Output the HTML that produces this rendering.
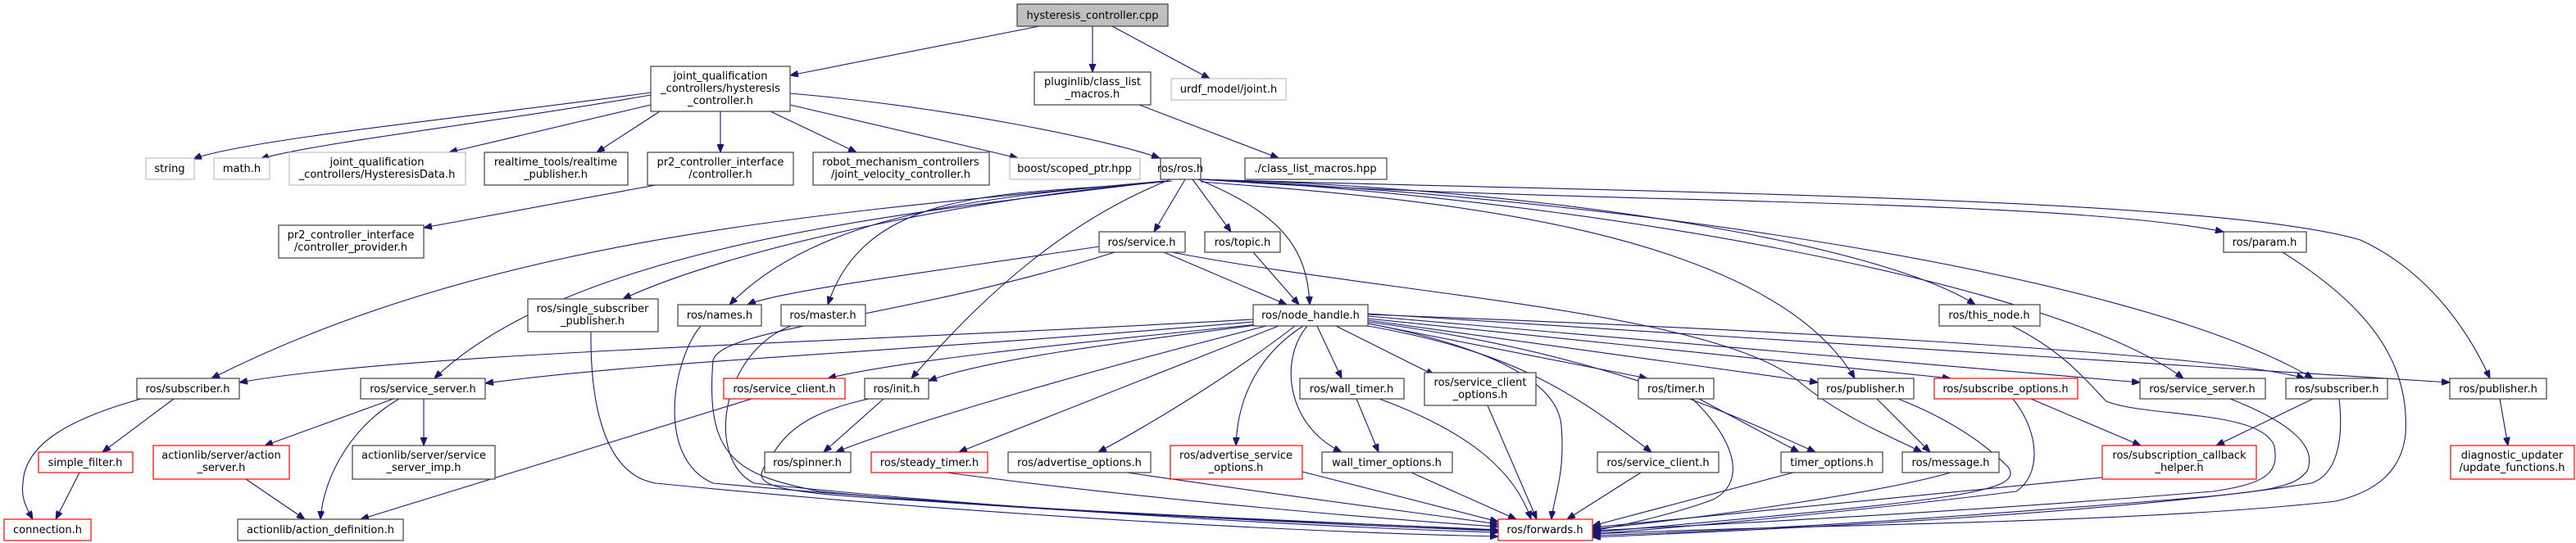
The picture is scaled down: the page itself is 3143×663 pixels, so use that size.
<!DOCTYPE html>
<html><head><meta charset="utf-8"><style>
html,body{margin:0;padding:0;background:#fff;}
svg{display:block;}
text{font-family:"DejaVu Sans","Liberation Sans",sans-serif;font-size:13px;fill:#000;text-anchor:middle;}
.n{fill:#fff;stroke:#404040;stroke-width:1.2;}
.r{fill:#fff;stroke:#ff0000;stroke-width:1.2;}
.g{fill:#fff;stroke:#bfbfbf;stroke-width:1.2;}
path.e{fill:none;stroke:#191970;stroke-width:1.1;marker-end:url(#a);}
</style></head><body>
<svg width="3143" height="663" viewBox="0 0 3143 663" xmlns="http://www.w3.org/2000/svg">
<defs><marker id="a" markerWidth="11" markerHeight="8" refX="10" refY="4" orient="auto" markerUnits="userSpaceOnUse"><path d="M0,0 L10,4 L0,8 z" fill="#191970" stroke="#191970"/></marker></defs>
<g>
<path class="e" d="M1268,32 L964,92"/>
<path class="e" d="M1333,32 L1333,88"/>
<path class="e" d="M1357,32 L1476,96"/>
<path class="e" d="M794,113 C600,140 300,170 236,194"/>
<path class="e" d="M794,116 C600,150 380,175 318,194"/>
<path class="e" d="M794,128 L548,186"/>
<path class="e" d="M805,136 L728,186"/>
<path class="e" d="M879,136 L879,186"/>
<path class="e" d="M940,136 L1045,186"/>
<path class="e" d="M964,128 L1242,193"/>
<path class="e" d="M964,114 C1150,130 1350,170 1415,193"/>
<path class="e" d="M1390,128 L1560,193"/>
<path class="e" d="M800,226 L517,278"/>
<path class="e" d="M1420,221 C1000,260 600,290 258,462"/>
<path class="e" d="M1422,221 C1100,260 700,300 530,462"/>
<path class="e" d="M1420,222 C1200,240 900,300 760,365"/>
<path class="e" d="M1425,221 C1200,240 1000,260 890,372"/>
<path class="e" d="M1430,221 C1250,240 1060,220 1010,372"/>
<path class="e" d="M1428,219 C1300,270 1200,360 1112,462"/>
<path class="e" d="M1446,219 L1408,283"/>
<path class="e" d="M1455,219 L1502,283"/>
<path class="e" d="M1462,219 C1560,260 1595,300 1598,372"/>
<path class="e" d="M1465,219 C1900,230 2300,300 2410,372"/>
<path class="e" d="M1465,222 C1700,240 2150,270 2263,462"/>
<path class="e" d="M1465,219 C1900,240 2500,340 2664,462"/>
<path class="e" d="M1465,219 C1950,240 2600,330 2822,462"/>
<path class="e" d="M1465,219 C1900,250 2500,240 2713,283"/>
<path class="e" d="M1465,219 C2000,235 2700,240 2880,293 C2960,330 3010,400 3038,462"/>
<path class="e" d="M1341,301 C1150,330 950,355 912,372"/>
<path class="e" d="M1420,308 L1570,372"/>
<path class="e" d="M1360,308 C1100,390 880,400 870,440 C860,560 900,580 1000,600 C1300,630 1700,640 1828,647"/>
<path class="e" d="M1430,308 C1700,360 2100,380 2200,470 C2250,510 2300,530 2345,552"/>
<path class="e" d="M1529,308 L1585,372"/>
<path class="e" d="M1529,390 C1000,420 500,430 292,467"/>
<path class="e" d="M1529,393 C1100,430 800,440 592,468"/>
<path class="e" d="M1535,396 C1300,420 1100,440 1010,462"/>
<path class="e" d="M1540,396 C1350,420 1200,440 1133,465"/>
<path class="e" d="M1545,398 C1300,460 1100,520 1020,552"/>
<path class="e" d="M1560,398 C1400,460 1250,520 1170,552"/>
<path class="e" d="M1580,398 C1500,460 1400,520 1340,552"/>
<path class="e" d="M1590,398 C1540,430 1510,480 1508,544"/>
<path class="e" d="M1607,398 L1637,462"/>
<path class="e" d="M1595,398 C1560,440 1570,520 1637,552"/>
<path class="e" d="M1630,398 L1750,458"/>
<path class="e" d="M1669,395 C1800,420 1900,460 1905,520 C1910,580 1895,610 1893,634"/>
<path class="e" d="M1669,398 C1850,430 1920,480 2015,552"/>
<path class="e" d="M1669,395 L2010,462"/>
<path class="e" d="M1669,393 C1950,430 2100,500 2215,552"/>
<path class="e" d="M1669,391 L2218,467"/>
<path class="e" d="M1669,389 L2380,462"/>
<path class="e" d="M1669,386 L2611,467"/>
<path class="e" d="M1669,384 C2100,400 2700,430 2812,462"/>
<path class="e" d="M1669,383 L2989,467"/>
<path class="e" d="M855,398 C820,440 800,560 870,590 C1200,620 1600,640 1828,648"/>
<path class="e" d="M965,398 C880,430 860,560 920,590 C1250,625 1650,645 1828,650"/>
<path class="e" d="M721,405 C720,500 740,580 800,590 C1200,630 1600,650 1828,655"/>
<path class="e" d="M2455,398 C2520,430 2550,470 2570,490 C2620,510 2760,500 2775,545 C2780,575 2770,590 2700,600 C2400,625 2100,640 1943,648"/>
<path class="e" d="M2785,308 C2900,380 2940,450 2935,530 C2930,575 2900,600 2850,612 C2600,640 2200,640 1943,652"/>
<path class="e" d="M172,487 C90,510 30,540 28,590 C25,610 35,625 40,634"/>
<path class="e" d="M212,487 L125,552"/>
<path class="e" d="M97,577 L68,634"/>
<path class="e" d="M480,487 L323,544"/>
<path class="e" d="M487,487 C430,520 395,580 391,634"/>
<path class="e" d="M517,487 L517,544"/>
<path class="e" d="M300,585 L372,634"/>
<path class="e" d="M917,487 L440,634"/>
<path class="e" d="M1078,487 L1005,552"/>
<path class="e" d="M1060,487 C1000,500 960,520 940,560 C915,590 920,600 1100,610 C1400,630 1700,640 1828,648"/>
<path class="e" d="M1655,487 L1682,552"/>
<path class="e" d="M1683,487 C1800,530 1850,580 1868,634"/>
<path class="e" d="M1815,495 L1875,634"/>
<path class="e" d="M2073,487 L2195,552"/>
<path class="e" d="M2065,487 C2120,540 2130,590 2090,610 C2050,625 1990,640 1943,648"/>
<path class="e" d="M2002,577 L1912,634"/>
<path class="e" d="M2188,577 L1943,642"/>
<path class="e" d="M2290,487 L2355,552"/>
<path class="e" d="M2316,487 C2400,520 2440,560 2450,570 C2470,600 2400,610 1943,650"/>
<path class="e" d="M2478,487 L2612,544"/>
<path class="e" d="M2456,487 C2490,530 2490,580 2460,600 C2300,620 2100,640 1943,652"/>
<path class="e" d="M2721,487 C2780,510 2830,540 2815,575 C2800,595 2770,600 2650,610 C2400,630 2200,645 1943,654"/>
<path class="e" d="M2822,487 L2704,544"/>
<path class="e" d="M2854,487 C2860,540 2850,580 2820,590 C2600,625 2200,645 1943,656"/>
<path class="e" d="M3050,487 L3060,544"/>
<path class="e" d="M2565,583 L1943,644"/>
<path class="e" d="M1155,577 C1400,610 1700,635 1828,643"/>
<path class="e" d="M1375,577 C1600,610 1760,630 1828,640"/>
<path class="e" d="M1589,576 C1700,605 1780,625 1828,637"/>
<path class="e" d="M1722,577 L1850,634"/>
<path class="e" d="M2380,577 C2300,600 2100,630 1943,646"/>
</g>
<g>
<rect x="1241" y="5" width="184" height="27" fill="#bfbfbf" stroke="#404040" stroke-width="1.2"/><text x="1333" y="23">hysteresis_controller.cpp</text>
<rect class="n" x="794" y="81" width="170" height="55"/><text x="879" y="97">joint_qualification</text><text x="879" y="112">_controllers/hysteresis</text><text x="879" y="127">_controller.h</text>
<rect class="n" x="1262" y="88" width="142" height="40"/><text x="1333" y="104">pluginlib/class_list</text><text x="1333" y="119">_macros.h</text>
<rect class="g" x="1429" y="96" width="140" height="26"/><text x="1499" y="113">urdf_model/joint.h</text>
<rect class="g" x="178" y="193" width="59" height="26"/><text x="207" y="210">string</text>
<rect class="g" x="261" y="193" width="68" height="26"/><text x="295" y="210">math.h</text>
<rect class="g" x="353" y="186" width="215" height="40"/><text x="460" y="202">joint_qualification</text><text x="460" y="217">_controllers/HysteresisData.h</text>
<rect class="n" x="591" y="186" width="175" height="40"/><text x="678" y="202">realtime_tools/realtime</text><text x="678" y="217">_publisher.h</text>
<rect class="n" x="790" y="186" width="178" height="40"/><text x="879" y="202">pr2_controller_interface</text><text x="879" y="217">/controller.h</text>
<rect class="n" x="992" y="186" width="215" height="40"/><text x="1099" y="202">robot_mechanism_controllers</text><text x="1099" y="217">/joint_velocity_controller.h</text>
<rect class="g" x="1232" y="193" width="159" height="26"/><text x="1311" y="210">boost/scoped_ptr.hpp</text>
<rect class="n" x="1416" y="193" width="49" height="26"/><text x="1440" y="210">ros/ros.h</text>
<rect class="n" x="1519" y="193" width="173" height="26"/><text x="1605" y="210">./class_list_macros.hpp</text>
<rect class="n" x="340" y="275" width="177" height="40"/><text x="428" y="291">pr2_controller_interface</text><text x="428" y="306">/controller_provider.h</text>
<rect class="n" x="1341" y="283" width="105" height="25"/><text x="1393" y="300">ros/service.h</text>
<rect class="n" x="1470" y="283" width="92" height="25"/><text x="1516" y="300">ros/topic.h</text>
<rect class="n" x="2713" y="283" width="101" height="25"/><text x="2763" y="300">ros/param.h</text>
<rect class="n" x="644" y="365" width="159" height="40"/><text x="723" y="381">ros/single_subscriber</text><text x="723" y="396">_publisher.h</text>
<rect class="n" x="827" y="372" width="102" height="26"/><text x="878" y="389">ros/names.h</text>
<rect class="n" x="953" y="372" width="103" height="26"/><text x="1004" y="389">ros/master.h</text>
<rect class="n" x="1529" y="372" width="140" height="26"/><text x="1599" y="389">ros/node_handle.h</text>
<rect class="n" x="2366" y="372" width="123" height="26"/><text x="2427" y="389">ros/this_node.h</text>
<rect class="n" x="167" y="462" width="125" height="25"/><text x="229" y="479">ros/subscriber.h</text>
<rect class="n" x="440" y="462" width="152" height="25"/><text x="516" y="479">ros/service_server.h</text>
<rect class="r" x="883" y="462" width="148" height="25"/><text x="957" y="479">ros/service_client.h</text>
<rect class="n" x="1055" y="462" width="78" height="25"/><text x="1094" y="479">ros/init.h</text>
<rect class="n" x="1586" y="462" width="127" height="25"/><text x="1649" y="479">ros/wall_timer.h</text>
<rect class="n" x="1738" y="455" width="136" height="40"/><text x="1806" y="471">ros/service_client</text><text x="1806" y="486">_options.h</text>
<rect class="n" x="1999" y="462" width="92" height="25"/><text x="2045" y="479">ros/timer.h</text>
<rect class="n" x="2218" y="462" width="117" height="25"/><text x="2276" y="479">ros/publisher.h</text>
<rect class="r" x="2360" y="462" width="175" height="25"/><text x="2447" y="479">ros/subscribe_options.h</text>
<rect class="n" x="2611" y="462" width="153" height="25"/><text x="2687" y="479">ros/service_server.h</text>
<rect class="n" x="2789" y="462" width="124" height="25"/><text x="2851" y="479">ros/subscriber.h</text>
<rect class="n" x="2989" y="462" width="118" height="25"/><text x="3048" y="479">ros/publisher.h</text>
<rect class="r" x="47" y="552" width="115" height="25"/><text x="104" y="569">simple_filter.h</text>
<rect class="r" x="187" y="544" width="166" height="41"/><text x="270" y="560">actionlib/server/action</text><text x="270" y="575">_server.h</text>
<rect class="n" x="430" y="544" width="174" height="41"/><text x="517" y="560">actionlib/server/service</text><text x="517" y="575">_server_imp.h</text>
<rect class="n" x="933" y="552" width="105" height="25"/><text x="985" y="569">ros/spinner.h</text>
<rect class="r" x="1063" y="552" width="142" height="25"/><text x="1134" y="569">ros/steady_timer.h</text>
<rect class="n" x="1230" y="552" width="174" height="25"/><text x="1317" y="569">ros/advertise_options.h</text>
<rect class="r" x="1428" y="544" width="161" height="41"/><text x="1508" y="560">ros/advertise_service</text><text x="1508" y="575">_options.h</text>
<rect class="n" x="1613" y="552" width="159" height="25"/><text x="1692" y="569">wall_timer_options.h</text>
<rect class="n" x="1949" y="552" width="148" height="25"/><text x="2023" y="569">ros/service_client.h</text>
<rect class="n" x="2173" y="552" width="124" height="25"/><text x="2235" y="569">timer_options.h</text>
<rect class="n" x="2321" y="552" width="118" height="25"/><text x="2380" y="569">ros/message.h</text>
<rect class="r" x="2565" y="544" width="188" height="41"/><text x="2659" y="560">ros/subscription_callback</text><text x="2659" y="575">_helper.h</text>
<rect class="r" x="2990" y="544" width="151" height="41"/><text x="3065" y="560">diagnostic_updater</text><text x="3065" y="575">/update_functions.h</text>
<rect class="r" x="5" y="634" width="106" height="26"/><text x="58" y="651">connection.h</text>
<rect class="n" x="290" y="634" width="202" height="26"/><text x="391" y="651">actionlib/action_definition.h</text>
<rect class="r" x="1828" y="634" width="115" height="26"/><text x="1885" y="651">ros/forwards.h</text>
</g>
</svg>
</body></html>
